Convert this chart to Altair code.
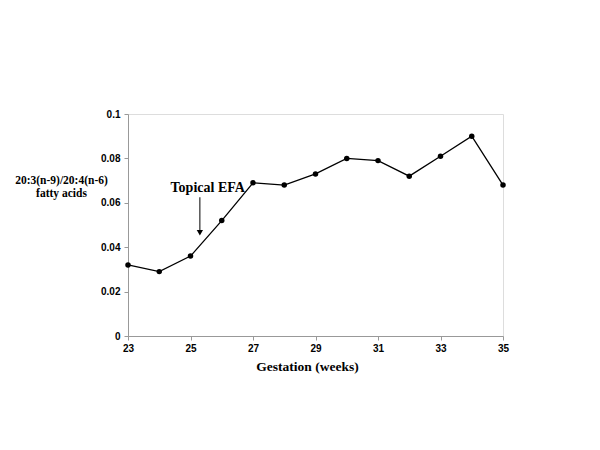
import altair as alt
import pandas as pd

weeks = [23, 24, 25, 26, 27, 28, 29, 30, 31, 32, 33, 34, 35]
ratio = [0.032, 0.029, 0.036, 0.052, 0.069, 0.068, 0.073, 0.080, 0.079, 0.072, 0.081, 0.090, 0.068]

annot_text = ["Topical EFA"]
annot_x = [25.55]
annot_y = [0.0665]
arrow_x = [25.3]
arrow_top = [0.0625]
arrow_bottom = [0.0465]

df = pd.DataFrame({"week": weeks, "ratio": ratio})
ann = pd.DataFrame({"label": annot_text, "x": annot_x, "y": annot_y})
arr = pd.DataFrame({"x": arrow_x, "y": arrow_top, "y2": arrow_bottom})

xscale = alt.Scale(domain=[23, 35], nice=False, zero=False)
yscale = alt.Scale(domain=[0, 0.1], nice=False)

xaxis = alt.Axis(
    values=weeks, labelExpr="datum.value % 2 == 1 ? datum.label : ''",
    title="Gestation (weeks)", titleFont="Liberation Serif", titleFontSize=13.5,
    titleFontWeight="bold", titleColor="black", titlePadding=6, titleX=179,
    titleAlign="center",
    labelFont="Liberation Sans", labelFontSize=10, labelFontWeight="bold", labelColor="black",
    labelFlush=False,
    domainColor="#999999", tickColor="#999999", tickSize=4, grid=False, labelPadding=3,
)
yaxis = alt.Axis(
    values=[0, 0.02, 0.04, 0.06, 0.08, 0.1], format="~g",
    title=["20:3(n-9)/20:4(n-6)", "fatty acids"], titleAngle=0,
    titleX=-67, titleY=66, titleAlign="center", titleBaseline="middle",
    titleFont="Liberation Serif", titleFontSize=11.5, titleFontWeight="bold", titleColor="black",
    labelFont="Liberation Sans", labelFontSize=10, labelFontWeight="bold", labelColor="black",
    labelFlush=False,
    domainColor="#999999", tickColor="#999999", tickSize=4, grid=False, labelPadding=4,
)

base = alt.Chart(df)
line = base.mark_line(color="black", strokeWidth=1.3).encode(
    x=alt.X("week:Q", scale=xscale, axis=xaxis),
    y=alt.Y("ratio:Q", scale=yscale, axis=yaxis),
)
pts = base.mark_point(filled=True, color="black", size=30, opacity=1).encode(
    x=alt.X("week:Q", scale=xscale),
    y=alt.Y("ratio:Q", scale=yscale),
)
text = alt.Chart(ann).mark_text(
    font="Liberation Serif", fontSize=14, fontWeight="bold", color="black"
).encode(x=alt.X("x:Q", scale=xscale), y=alt.Y("y:Q", scale=yscale), text="label:N")
rule = alt.Chart(arr).mark_rule(color="black", strokeWidth=1).encode(
    x=alt.X("x:Q", scale=xscale), y=alt.Y("y:Q", scale=yscale), y2="y2:Q"
)
head = alt.Chart(arr).mark_point(
    shape="triangle-down", filled=True, color="black", size=40, opacity=1
).encode(x=alt.X("x:Q", scale=xscale), y=alt.Y("y2:Q", scale=yscale))

chart = alt.layer(line, pts, rule, head, text).properties(
    width=375, height=222,
    padding={"left": 120, "top": 106, "right": 80, "bottom": 90},
    autosize="none",
).configure_view(stroke=None).configure(background="white")

chart.save("out.html", embed_options={"renderer": "svg", "actions": False})
